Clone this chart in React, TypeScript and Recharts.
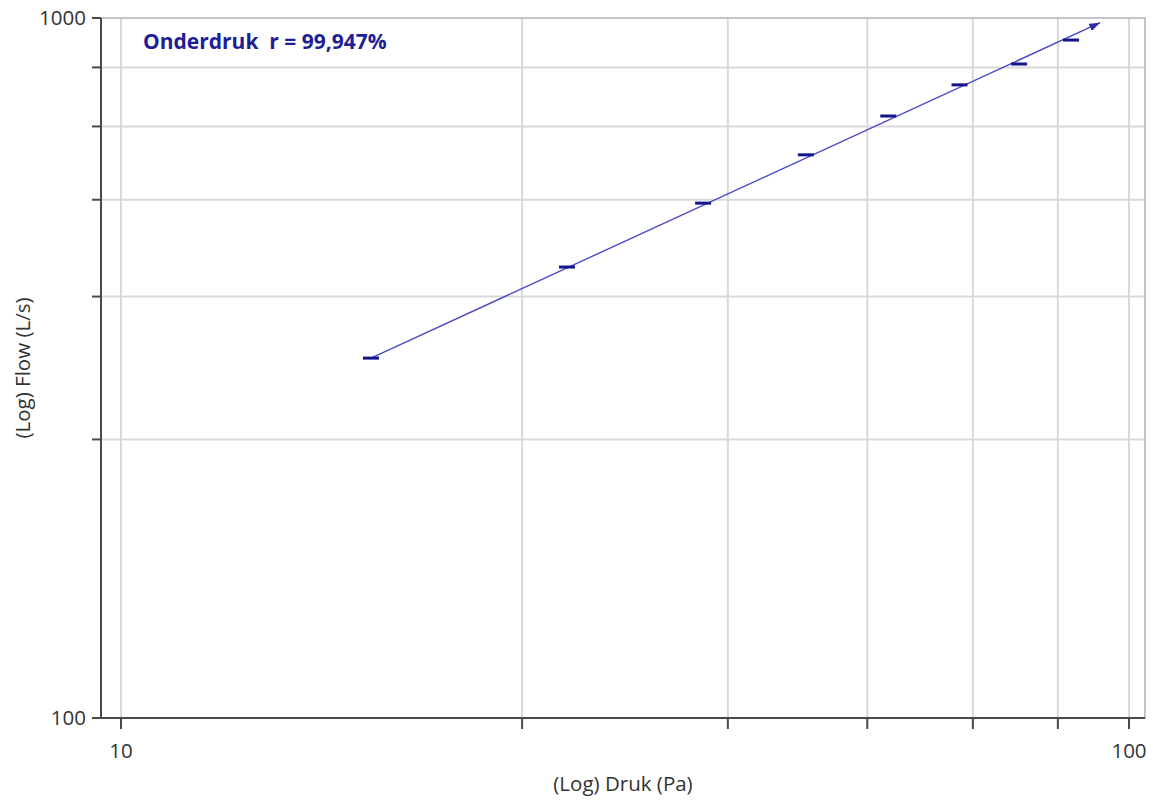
import React from 'react';
import { ComposedChart, XAxis, YAxis, CartesianGrid, Line, Scatter, ReferenceArea } from 'recharts';

const pressure = [17.7, 27.7, 37.8, 47.8, 57.7, 67.9, 77.8, 87.6];
const flow = [326.7, 440.8, 543.9, 637.6, 724.4, 802.6, 859.6, 930];
const fitPressure = [17.7, 93.6];
const fitFlow = [326.7, 984.6];
const xTicks = [10, 25, 40, 55, 70, 85, 100];
const yTicks = [100, 250, 400, 550, 700, 850, 1000];
const xLabeled = [10, 100];
const yLabeled = [100, 1000];
const xDomain = [9.554, 103.72];
const yDomain = [100, 1000];
const title = 'Onderdruk  r = 99,947%';
const xTitle = '(Log) Druk (Pa)';
const yTitle = '(Log) Flow (L/s)';

const points = pressure.map((x, i) => ({ x, y: flow[i] }));
const fitData = fitPressure.map((x, i) => ({ x, y: fitFlow[i] }));

const FONT = "'Open Sans', 'DejaVu Sans', sans-serif";
const AXIS = '#4a4a4a';
const FS = 20.5;

const Dash = (props: any) => {
  const { cx, cy } = props;
  if (cx == null || cy == null) return null;
  return <rect x={cx - 8} y={cy - 1.5} width={16} height={3} fill="#14148c" />;
};

export default function App() {
  return (
    <div style={{ position: 'absolute', left: 0, top: 0, width: 1153, height: 800, background: '#fff' }}>
      <ComposedChart width={1153} height={800} margin={{ top: 18, right: 8, bottom: 0, left: 0 }}>
        <defs>
          <marker id="arrowHead" viewBox="0 0 11 8" refX="11" refY="4" markerWidth="11" markerHeight="8" markerUnits="userSpaceOnUse" orient="auto">
            <path d="M0,0 L11,4 L0,8 z" fill="#2b2bb0" />
          </marker>
        </defs>
        <CartesianGrid stroke="#d9d9d9" strokeWidth={2} />
        <ReferenceArea x1={xDomain[0]} x2={xDomain[1]} y1={yDomain[0]} y2={yDomain[1]} fill="none" stroke="#c4c4c4" strokeWidth={2} ifOverflow="visible" />
        <XAxis
          dataKey="x"
          type="number"
          scale="log"
          domain={xDomain}
          allowDataOverflow
          ticks={xTicks}
          interval={0}
          height={82}
          tickSize={11}
          tickMargin={14}
          axisLine={{ stroke: AXIS, strokeWidth: 2 }}
          tickLine={{ stroke: AXIS, strokeWidth: 2 }}
          tick={{ fill: '#333', fontSize: FS, fontFamily: FONT }}
          tickFormatter={(v: number) => (xLabeled.includes(v) ? String(v) : '')}
        />
        <YAxis
          dataKey="y"
          type="number"
          scale="log"
          domain={yDomain}
          allowDataOverflow
          ticks={yTicks}
          interval={0}
          width={101}
          tickSize={9}
          tickMargin={6}
          axisLine={{ stroke: AXIS, strokeWidth: 2 }}
          tickLine={{ stroke: AXIS, strokeWidth: 2 }}
          tick={{ fill: '#333', fontSize: FS, fontFamily: FONT }}
          tickFormatter={(v: number) => (yLabeled.includes(v) ? String(v) : '')}
        />
        <Line
          data={fitData}
          dataKey="y"
          type="linear"
          stroke="#4b4bc8"
          strokeWidth={1.4}
          dot={false}
          activeDot={false}
          isAnimationActive={false}
          markerEnd="url(#arrowHead)"
        />
        <Scatter data={points} dataKey="y" shape={Dash} isAnimationActive={false} />
        <text x={143} y={49} fill="#1e1e96" fontSize={21} fontWeight="bold" fontFamily={FONT} style={{ whiteSpace: 'pre' }}>
          {title}
        </text>
        <text x={623} y={791} fill="#333" fontSize={FS} fontFamily={FONT} textAnchor="middle">
          {xTitle}
        </text>
        <text x={30} y={368} fill="#333" fontSize={FS} fontFamily={FONT} textAnchor="middle" transform="rotate(-90 30 368)">
          {yTitle}
        </text>
      </ComposedChart>
    </div>
  );
}
